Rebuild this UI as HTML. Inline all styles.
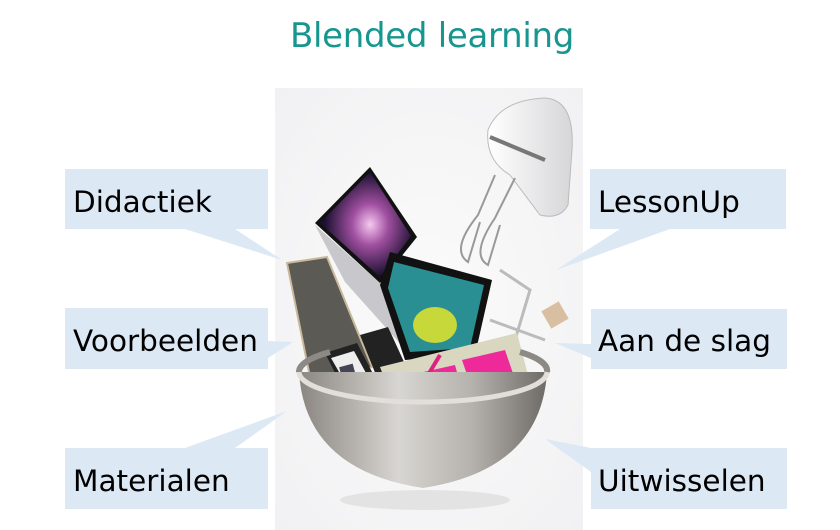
<!DOCTYPE html>
<html><head><meta charset="utf-8"><style>
body{margin:0;width:840px;height:530px;background:#fff;overflow:hidden;position:relative;font-family:"DejaVu Sans",Verdana,sans-serif}
.t{position:absolute;left:0;width:864px;top:16px;text-align:center;color:#17968f;font-size:34px;font-family:"DejaVu Sans",sans-serif;letter-spacing:-0.3px}
.l{position:absolute;font-size:29.5px;color:#000}
</style></head><body>
<svg width="840" height="530" style="position:absolute;left:0;top:0">
<defs>
<radialGradient id="bg" cx="0.5" cy="0.5" r="0.7"><stop offset="0" stop-color="#fbfbfb"/><stop offset="1" stop-color="#f1f1f3"/></radialGradient>
<linearGradient id="bw" x1="0" x2="1"><stop offset="0" stop-color="#8a8580"/><stop offset="0.4" stop-color="#d8d6d2"/><stop offset="0.7" stop-color="#b5b1ac"/><stop offset="1" stop-color="#6e6a66"/></linearGradient>
<linearGradient id="mx" x1="0" x2="1"><stop offset="0" stop-color="#fff"/><stop offset="1" stop-color="#d6d6d8"/></linearGradient>
<radialGradient id="scr" cx="0.55" cy="0.5" r="0.5"><stop offset="0" stop-color="#f6c8f0"/><stop offset="0.4" stop-color="#a04fa0"/><stop offset="1" stop-color="#1a1030"/></radialGradient>
</defs>
<rect x="275" y="88" width="308" height="442" fill="url(#bg)"/>
<g fill="#dde8f5">
<rect x="65" y="169" width="203" height="60"/><polygon points="185,229 235,229 282,260"/>
<rect x="65" y="308" width="203" height="61"/><polygon points="268,341 268,358 293,342"/>
<rect x="65" y="448" width="203" height="61"/><polygon points="185,448 235,448 287,411"/>
<rect x="590" y="169" width="196" height="60"/><polygon points="620,229 670,229 556,270"/>
<rect x="591" y="309" width="196" height="60"/><polygon points="591,344 591,358 555,343"/>
<rect x="591" y="448" width="196" height="61"/><polygon points="591,448 591,472 545,439"/>
</g>
<ellipse cx="425" cy="500" rx="85" ry="10" fill="#e3e3e3"/>
<polygon points="287,263 327,257 372,367 313,392" fill="#5b5a55" stroke="#c9b99a" stroke-width="2"/>
<polygon points="315,225 380,283 412,357 345,282" fill="#c8c8cc"/>
<polygon points="315,223 370,167 417,237 380,283" fill="#111"/>
<polygon points="320,223 370,172 411,236 380,277" fill="url(#scr)"/>
<polygon points="390,252 492,280 475,355 405,360 380,285" fill="#111"/>
<polygon points="394,262 484,285 470,348 410,352 388,288" fill="#2a8f92"/>
<ellipse cx="435" cy="325" rx="22" ry="18" fill="#c6d83a"/>
<path d="M488,130 Q500,100 545,98 Q575,100 572,150 L568,205 Q560,220 540,215 L510,175 Q485,160 488,130Z" fill="url(#mx)" stroke="#bbb"/>
<path d="M490,137 L545,160" stroke="#777" stroke-width="4"/>
<g stroke="#999" stroke-width="2" fill="none"><path d="M495,175 L478,215 Q450,250 468,262 L480,222"/><path d="M515,178 L495,218 Q470,255 488,265 L500,225"/></g>
<g stroke="#bbb" stroke-width="3" fill="none"><path d="M500,270 L530,290 L515,340"/><path d="M490,320 L545,340"/></g>
<rect x="545" y="305" width="20" height="20" fill="#d9bfa2" transform="rotate(-30 555 315)"/>
<polygon points="360,335 388,327 410,375 380,385" fill="#222"/>
<polygon points="325,353 357,343 385,397 352,407" fill="#222"/>
<polygon points="331,358 354,351 378,395 355,400" fill="#eee"/>
<rect x="342" y="365" width="14" height="25" fill="#445" transform="rotate(-15 349 377)"/>
<polygon points="380,367 517,333 532,390 397,412" fill="#d9d7bf"/>
<polygon points="410,375 455,365 465,402 415,410" fill="#ee2a9a"/>
<polygon points="462,360 505,350 518,388 475,398" fill="#ee2a9a"/>
<path d="M410,405 L440,355" stroke="#e0207f" stroke-width="4"/>
<path d="M299,372 Q305,470 423,488 Q541,470 547,372 Z" fill="url(#bw)"/>
<path d="M299,372 A124,30 0 0 0 547,372" fill="none" stroke="#e2dfdb" stroke-width="5"/>
<path d="M299,372 A124,30 0 0 1 330,352" fill="none" stroke="#8d8984" stroke-width="6"/>
<path d="M547,372 A124,30 0 0 0 520,352" fill="none" stroke="#8d8984" stroke-width="6"/>
</svg>
<div class="t">Blended learning</div>
<div class="l" style="left:73px;top:185px">Didactiek</div>
<div class="l" style="left:73px;top:324px">Voorbeelden</div>
<div class="l" style="left:73px;top:464px">Materialen</div>
<div class="l" style="left:598px;top:185px">LessonUp</div>
<div class="l" style="left:598px;top:324px">Aan de slag</div>
<div class="l" style="left:598px;top:464px">Uitwisselen</div>
</body></html>
